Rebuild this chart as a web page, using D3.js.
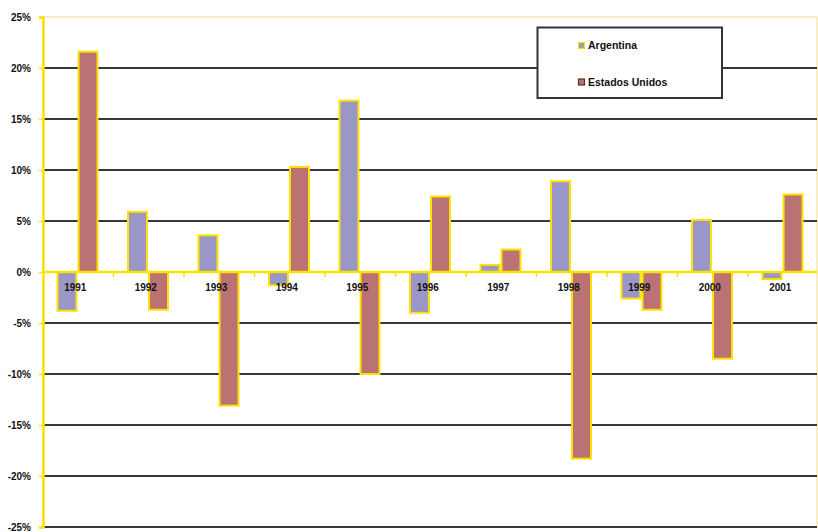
<!DOCTYPE html>
<html>
<head>
<meta charset="utf-8">
<script src="https://cdn.jsdelivr.net/npm/d3@7"></script>
<style>
  html, body { margin: 0; padding: 0; background: #ffffff; }
  svg { display: block; font-family: Arial, "Liberation Sans", sans-serif; }
</style>
</head>
<body>
<svg id="chart" width="818" height="532"></svg>
<script>
// ---- data ----
const years = ["1991","1992","1993","1994","1995","1996","1997","1998","1999","2000","2001"];
const seriesNames = ["Argentina", "Estados Unidos"];
const argentina = [-3.8, 5.9, 3.6, -1.3, 16.8, -4.0, 0.7, 8.9, -2.6, 5.1, -0.7];
const estadosUnidos = [21.6, -3.7, -13.1, 10.3, -10.0, 7.4, 2.2, -18.3, -3.7, -8.5, 7.6];
const yTicks = [-25, -20, -15, -10, -5, 0, 5, 10, 15, 20, 25];

const colors = { "Argentina": "#9b96c8", "Estados Unidos": "#ba7274" };
const swatchStroke = { "Argentina": "#ffe100", "Estados Unidos": "#5a2d2d" };
const yellow = "#ffe100";
const gridColor = "#383838";

const svg = d3.select("#chart");
const plotLeft = 43, plotRight = 818.5, plotTop = 17, plotBottom = 527;

const y = d3.scaleLinear().domain([-25, 25]).range([plotBottom, plotTop]);
const x0 = d3.scaleBand().domain(years).range([plotLeft, plotRight]).padding(0);
const x1 = d3.scaleBand().domain(seriesNames).range([14.5, 54.5]).paddingInner(0.1);

const rows = years.map((yr, i) => ({ year: yr, values: [
  { name: "Argentina", v: argentina[i] },
  { name: "Estados Unidos", v: estadosUnidos[i] }
]}));

// plot border (faint)
svg.append("rect")
  .attr("x", plotLeft).attr("y", plotTop)
  .attr("width", 817 - plotLeft).attr("height", plotBottom - plotTop)
  .attr("fill", "none").attr("stroke", "#f3dc8a").attr("stroke-width", 1);

// gridlines
svg.append("g").selectAll("line")
  .data(yTicks.filter(d => d !== 0 && d !== 25))
  .join("line")
  .attr("x1", plotLeft).attr("x2", 817)
  .attr("y1", d => y(d)).attr("y2", d => y(d))
  .attr("stroke", gridColor).attr("stroke-width", 2);

// y axis
const yAxis = svg.append("g")
  .attr("transform", `translate(${plotLeft},0)`)
  .call(d3.axisLeft(y).tickValues(yTicks).tickFormat(d => d + "%").tickSize(4).tickPadding(8));
yAxis.select(".domain").attr("stroke", yellow).attr("stroke-width", 2.5);
yAxis.selectAll(".tick line").attr("stroke", yellow).attr("stroke-width", 1.5);
yAxis.selectAll(".tick text")
  .attr("font-size", 10).attr("font-weight", "bold").attr("fill", "#111")
  .attr("font-family", "Arial, 'Liberation Sans', sans-serif");

// bars
const groups = svg.append("g").selectAll("g")
  .data(rows).join("g")
  .attr("transform", d => `translate(${x0(d.year)},0)`);
groups.selectAll("rect")
  .data(d => d.values).join("rect")
  .attr("x", d => x1(d.name))
  .attr("width", x1.bandwidth())
  .attr("y", d => y(Math.max(0, d.v)))
  .attr("height", d => Math.abs(y(d.v) - y(0)))
  .attr("fill", d => colors[d.name])
  .attr("stroke", yellow).attr("stroke-width", 2);

// zero axis line with category boundary ticks
svg.append("line")
  .attr("x1", plotLeft).attr("x2", 817)
  .attr("y1", y(0)).attr("y2", y(0))
  .attr("stroke", yellow).attr("stroke-width", 2.5);
svg.append("g").selectAll("line")
  .data(years.slice(1))
  .join("line")
  .attr("x1", d => x0(d)).attr("x2", d => x0(d))
  .attr("y1", y(0)).attr("y2", y(0) + 5)
  .attr("stroke", yellow).attr("stroke-width", 1.5);

// x labels
const xAxis = svg.append("g")
  .attr("transform", `translate(-3,${y(0)})`)
  .call(d3.axisBottom(x0).tickSize(0).tickPadding(12));
xAxis.select(".domain").remove();
xAxis.selectAll(".tick text")
  .attr("font-size", 10).attr("font-weight", "bold").attr("fill", "#111")
  .attr("font-family", "Arial, 'Liberation Sans', sans-serif");

// legend
const lg = svg.append("g");
lg.append("rect")
  .attr("x", 537.5).attr("y", 27.5).attr("width", 184.5).attr("height", 70.5)
  .attr("fill", "#ffffff").attr("stroke", "#333333").attr("stroke-width", 2);
const legY = d3.scalePoint().domain(seriesNames).range([45.5, 82]);
const items = lg.selectAll("g.item").data(seriesNames).join("g").attr("class", "item")
  .attr("transform", d => `translate(578,${legY(d)})`);
items.append("rect")
  .attr("x", 0.5).attr("y", -3).attr("width", 6).attr("height", 6)
  .attr("fill", d => colors[d]).attr("stroke", d => swatchStroke[d]).attr("stroke-width", 1.2);
items.append("text")
  .attr("x", 10).attr("y", 0).attr("dy", "0.35em")
  .attr("font-size", 10.5).attr("font-weight", "bold").attr("fill", "#111")
  .text(d => d);
</script>
</body>
</html>
